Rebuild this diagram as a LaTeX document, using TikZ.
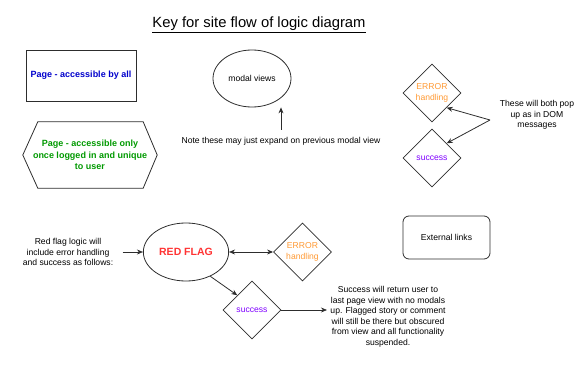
\documentclass[tikz,border=0pt]{standalone}
\usepackage{fontspec}
\setmainfont{Liberation Sans}
\usetikzlibrary{shapes.geometric,arrows.meta}

\definecolor{pageblue}{RGB}{0,0,204}
\definecolor{pagegreen}{RGB}{0,153,0}
\definecolor{errorange}{RGB}{255,153,51}
\definecolor{okpurple}{RGB}{127,0,255}
\definecolor{flagred}{RGB}{255,51,51}
\definecolor{linegray}{RGB}{45,45,45}

\tikzset{
    every node/.style={font=\fontsize{8.6}{10.5}\selectfont, align=center},
    box/.style={draw=linegray, line width=0.8pt, minimum width=110, minimum height=51},
    decision/.style={diamond, draw=linegray, line width=0.8pt, aspect=1,
        minimum width=58, minimum height=58, inner sep=0},
    modal/.style={ellipse, draw=linegray, line width=0.8pt},
    flow/.style={-{Stealth[length=6pt,width=5pt]}, draw=linegray, line width=0.8pt}
}

\begin{document}
\begin{tikzpicture}[x=1pt, y=-1pt]
    \useasboundingbox (0,0) rectangle (582,369);

    \node (title) at (259,25) {\fontsize{14.8}{17}\selectfont\underline{Key for site flow of logic diagram}};

    % page types
    \node[box, text=pageblue, font=\fontsize{9}{11.5}\selectfont\bfseries] (pub) at (81,75.5) {Page - accessible by all};
    \node[minimum width=134, minimum height=66, inner sep=0, text=pagegreen,
        font=\fontsize{9}{11.5}\selectfont\bfseries] (priv) at (90,155)
        {Page - accessible only\\once logged in and unique\\to user};
    \draw[linegray, line width=0.8pt] (priv.west) -- ([xshift=15]priv.north west)
        -- ([xshift=-14]priv.north east) -- (priv.east)
        -- ([xshift=-14]priv.south east) -- ([xshift=15]priv.south west) -- cycle;

    % modal views
    \node[modal, minimum width=78, minimum height=57] (mv) at (252,78.5) {modal views};
    \node (mvnote) at (281,141) {Note these may just expand on previous modal view};
    \coordinate (mvfrom) at (281,130);
    \draw[flow] (mvfrom) -- (mv.south -| mvfrom);

    % pop up messages
    \node[decision, text=errorange] (err) at (432,93) {ERROR\\handling};
    \node[decision, text=okpurple] (ok) at (432,158) {success};
    \node (popnote) at (537,115) {These will both pop\\up as in DOM\\messages};
    \coordinate (popfrom) at (490,120);
    \draw[flow] (popfrom) -- (err.south east);
    \draw[flow] (popfrom) -- (ok.north east);

    \node[draw=linegray, line width=0.8pt, rounded corners=6pt, minimum width=87, minimum height=43] (ext) at (446.5,237.5) {External links};

    % red flag logic
    \node (rfnote) at (68,252) {Red flag logic will\\include error handling\\and success as follows:};
    \node[modal, minimum width=69, minimum height=58, text=flagred,
        font=\fontsize{10.5}{12}\selectfont\bfseries] (rf) at (186,252) {RED FLAG};
    \node[decision, text=errorange] (rferr) at (302.5,252) {ERROR\\handling};
    \node[decision, text=okpurple] (rfok) at (252,310) {success};
    \node (oknote) at (388,317) {Success will return user to\\last page view with no modals\\up. Flagged story or comment\\will still be there but obscured\\from view and all functionality\\suspended.};

    \draw[flow, shorten <=6pt] (rfnote.east) -- (rf.west);
    \draw[flow, {Stealth[length=6pt,width=5pt]}-{Stealth[length=6pt,width=5pt]}] (rf.east) -- (rferr.west);
    \draw[flow] (rf.-45) -- (rfok.north west);
    \draw[flow] (rfok.east) -- (rfok.east -| oknote.west);
\end{tikzpicture}
\end{document}
